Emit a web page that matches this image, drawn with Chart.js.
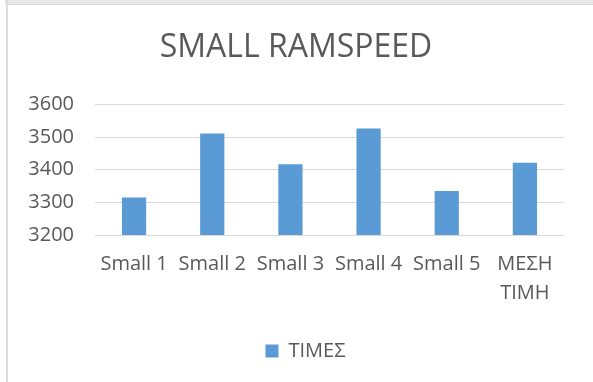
<!DOCTYPE html>
<html>
<head>
<meta charset="utf-8">
<script src="https://cdn.jsdelivr.net/npm/chart.js@4"></script>
<style>
  html, body { margin: 0; padding: 0; background: #fff; }
  #wrap { position: relative; width: 593px; height: 382px; overflow: hidden; }
  #topband { position: absolute; left: 5px; top: 0; width: 588px; height: 4px; background: #e9e9e9; border-bottom: 1px solid #d6d6d6; }
  #leftline { position: absolute; left: 6px; top: 0; width: 2px; height: 382px; background: #dcdcdc; }
  canvas { position: absolute; left: 0; top: 0; }
</style>
</head>
<body>
<div id="wrap">
  <div id="topband"></div>
  <div id="leftline"></div>
  <canvas id="c" width="593" height="382"></canvas>
</div>
<script>
const categories = ['Small 1', 'Small 2', 'Small 3', 'Small 4', 'Small 5', ['ΜΕΣΗ', 'ΤΙΜΗ']];
const seriesName = 'ΤΙΜΕΣ';
const values = [3315, 3511, 3417, 3526, 3335, 3421];
const yTicks = [3200, 3300, 3400, 3500, 3600];

const textColor = '#595959';
const fontFamily = '"Open Sans", sans-serif';

// Center the legend under the plot area rather than the whole canvas.
const legendUnderPlot = {
  id: 'legendUnderPlot',
  afterLayout(chart) {
    const lg = chart.legend;
    if (!lg) return;
    const area = chart.chartArea;
    const shift = (area.left + area.right) / 2 - (lg.left + lg.right) / 2 - 24;
    lg.left += shift;
    lg.right += shift;
  }
};

new Chart(document.getElementById('c'), {
  type: 'bar',
  data: {
    labels: categories,
    datasets: [{
      label: seriesName,
      data: values,
      backgroundColor: '#5b9bd5',
      borderWidth: 0,
      categoryPercentage: 1,
      barPercentage: 0.31
    }]
  },
  plugins: [legendUnderPlot],
  options: {
    responsive: false,
    animation: false,
    layout: { padding: { left: 28, right: 29, top: 0, bottom: 11 } },
    plugins: {
      title: {
        display: true,
        text: 'SMALL RAMSPEED',
        color: textColor,
        font: { family: fontFamily, size: 32, weight: 'normal', lineHeight: 1.2 },
        padding: { top: 29, bottom: 37 }
      },
      legend: {
        position: 'bottom',
        labels: {
          color: textColor,
          font: { family: fontFamily, size: 20 },
          boxWidth: 13,
          boxHeight: 13,
          padding: 21
        }
      },
      tooltip: { enabled: false }
    },
    scales: {
      x: {
        grid: { display: false, drawTicks: false },
        border: { display: false },
        ticks: {
          color: textColor,
          font: { family: fontFamily, size: 20, lineHeight: 1.45 },
          padding: 15,
          maxRotation: 0,
          autoSkip: false
        },
        afterFit(scale) { scale.height = 85; }
      },
      y: {
        min: yTicks[0],
        max: yTicks[yTicks.length - 1],
        afterBuildTicks(scale) { scale.ticks = yTicks.map(v => ({ value: v })); },
        grid: { color: '#d9d9d9', lineWidth: 1, drawTicks: false },
        border: { display: false },
        ticks: {
          color: textColor,
          font: { family: fontFamily, size: 20 },
          padding: 21,
          callback: v => String(v)
        },
        afterFit(scale) { scale.width = 67; }
      }
    }
  }
});
</script>
</body>
</html>
